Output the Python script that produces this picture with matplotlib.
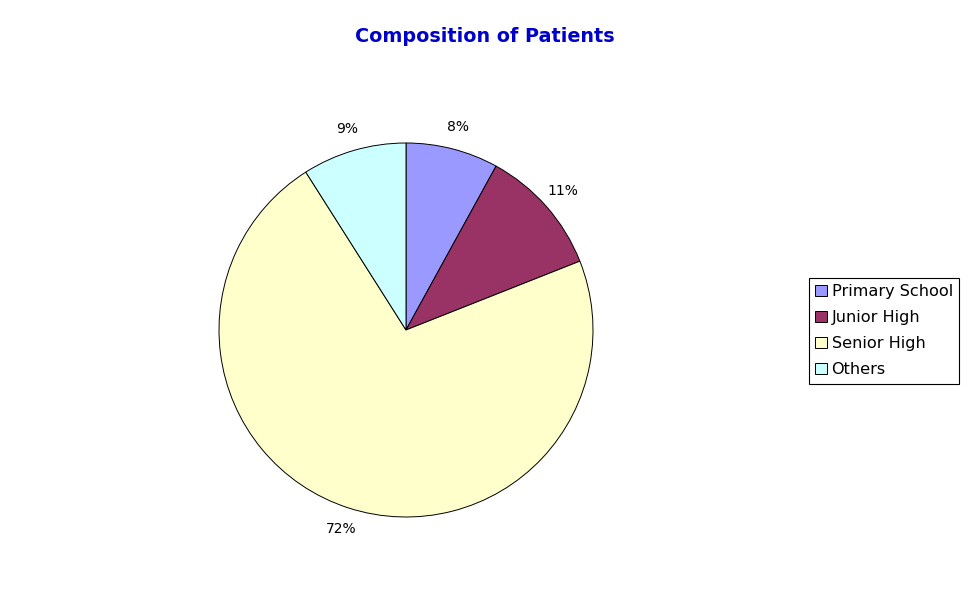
import matplotlib
matplotlib.use("Agg")
import matplotlib.pyplot as plt

# data
categories = ["Primary School", "Junior High", "Senior High", "Others"]
percents = [8, 11, 72, 9]
colors = ["#9999FF", "#993366", "#FFFFCC", "#CCFFFF"]

plt.rcParams['font.family'] = ['DejaVu Sans']

W, H = 970, 603
fig = plt.figure(figsize=(W / 100, H / 100), dpi=100)
fig.patch.set_facecolor("white")

# pie centre (406, 330), radius 187 px
cx, cy, r = 406, 330, 187
ax = fig.add_axes([(cx - r) / W, (H - cy - r) / H, 2 * r / W, 2 * r / H])
wedges, texts, autotexts = ax.pie(
    percents, colors=colors, startangle=90, counterclock=False,
    autopct='%d%%', pctdistance=1.12, radius=1.0,
    wedgeprops=dict(edgecolor="black", linewidth=0.7),
    textprops=dict(fontsize=10, color="black"))
ax.set_xlim(-1, 1)
ax.set_ylim(-1, 1)
ax.set_aspect("equal")
ax.axis("off")

fig.text(0.5, 1 - 36 / H, "Composition of Patients", ha="center", va="center",
         fontsize=13.8, fontweight="bold", color="#0000CC")

leg = fig.legend(wedges, categories, loc="upper left",
                 bbox_to_anchor=(809 / W, 1 - 278 / H),
                 fancybox=False, edgecolor="black", framealpha=1,
                 fontsize=11.6, handlelength=0.7, handleheight=0.7,
                 handletextpad=0.3, labelspacing=0.68, borderpad=0.4,
                 borderaxespad=0)
leg.get_frame().set_linewidth(0.8)

fig.savefig("out.png", dpi=100)
